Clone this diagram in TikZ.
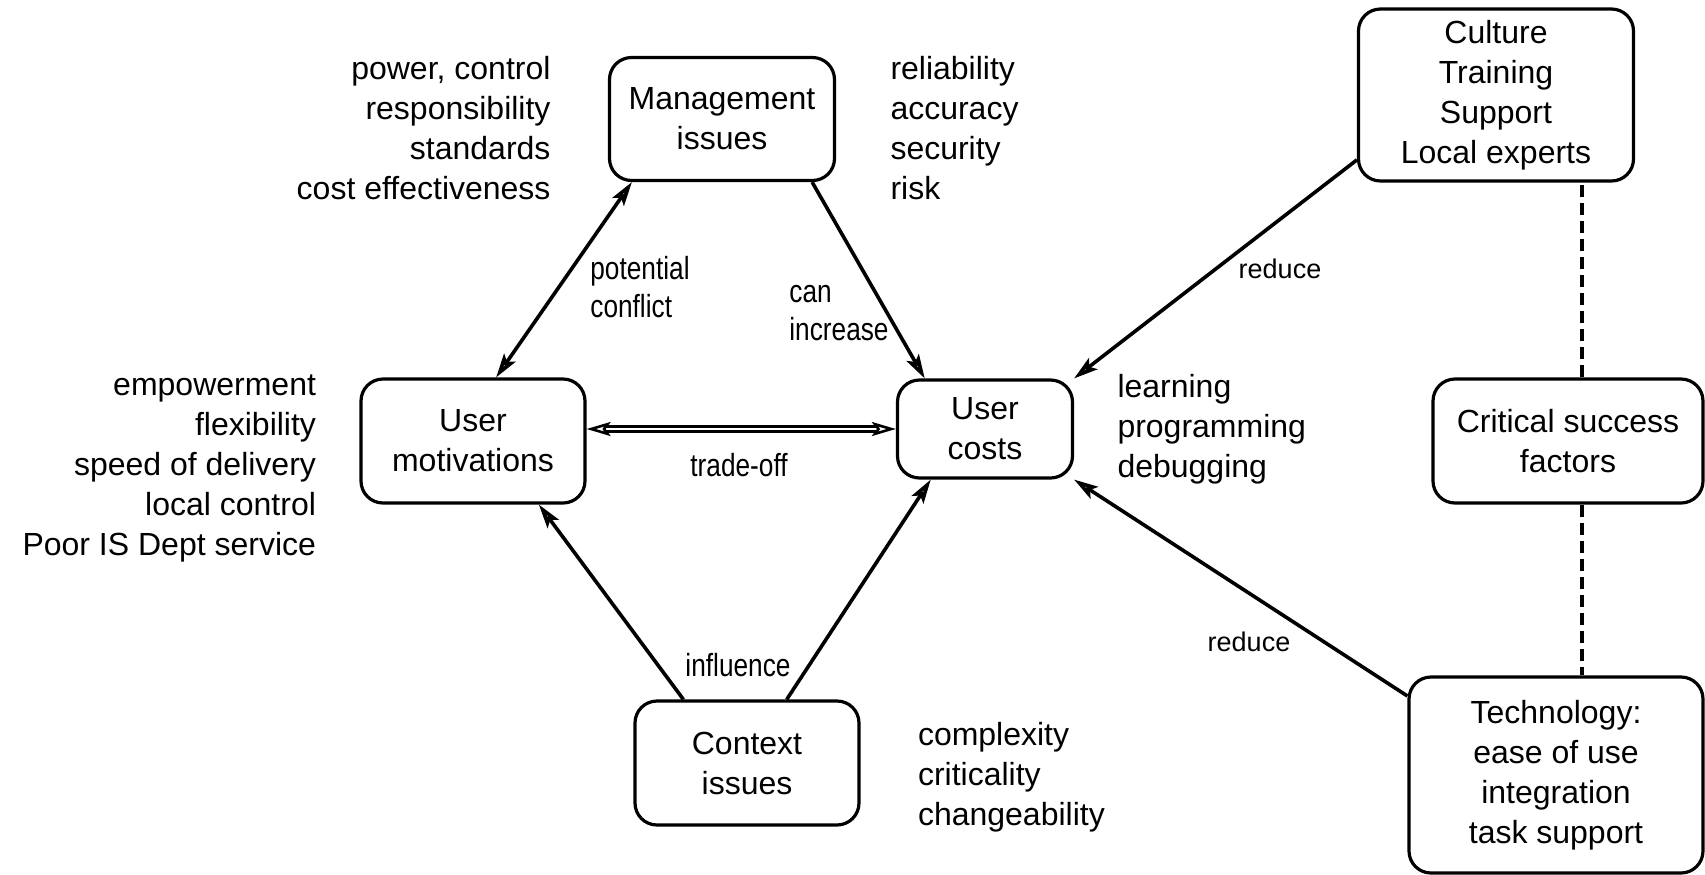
\documentclass[tikz,border=0pt]{standalone}
\usepackage{fontspec}
\setmainfont{Liberation Sans}
\newfontfamily\narrowfont[FakeStretch=0.82]{Liberation Sans}
\usetikzlibrary{arrows.meta,positioning}

\tikzset{
  >={Stealth[open,length=12pt,width=7pt,inset=2.5pt]},
  issue/.style={draw, rounded corners=11pt, line width=1.6pt, align=center,
    inner sep=3pt, font=\fontsize{16}{20}\selectfont},
  notes/.style={inner sep=0pt, font=\fontsize{16}{20}\selectfont},
  link/.style={line width=1.8pt, ->},
  both/.style={line width=1.8pt, <->},
  narrowlabel/.style={inner sep=0pt, align=left, font=\narrowfont\fontsize{16}{19}\selectfont},
  reducelabel/.style={inner sep=0pt, font=\fontsize{13.5}{16}\selectfont},
}

\begin{document}
\begin{tikzpicture}[x=0.5pt, y=-0.5pt]
	\useasboundingbox (0,0) rectangle (1705,874);
	
	% boxes
	\node[issue, minimum width=112.5pt, minimum height=61.5pt] (mgmt) at (722,119) {Management\\issues};
	\node[issue, minimum width=112pt, minimum height=62pt] (umot) at (473,441) {User\\motivations};
	\node[issue, minimum width=87.5pt, minimum height=49pt] (ucost) at (985,429) {User\\costs};
	\node[issue, minimum width=112pt, minimum height=62pt] (ctx) at (747,763) {Context\\issues};
	\node[issue, minimum width=137.5pt, minimum height=86pt] (culture) at (1496,95) {Culture\\Training\\Support\\Local experts};
	\node[issue, minimum width=135pt, minimum height=62pt] (csf) at (1568,441) {Critical success\\factors};
	\node[issue, minimum width=147pt, minimum height=98pt] (tech) at (1556,775) {Technology:\\ease of use\\integration\\task support};
	
	% lists beside the boxes
	\node[notes, align=right, left=28.5pt of mgmt, yshift=-4.5pt] (mgmtleft) {power, control\\responsibility\\standards\\cost effectiveness};
	\node[notes, align=left, right=27pt of mgmt, yshift=-4.5pt] (mgmtright) {reliability\\accuracy\\security\\risk};
	\node[notes, align=right, left=21.5pt of umot, yshift=-13.5pt] (umotleft) {empowerment\\flexibility\\speed of delivery\\local control\\Poor IS Dept service};
	\node[notes, align=left, right=21.5pt of ucost] (ucostright) {learning\\programming\\debugging};
	\node[notes, align=left, right=28.5pt of ctx, yshift=-7pt] (ctxright) {complexity\\criticality\\changeability};
	
	% connector labels
	\node[narrowlabel, anchor=west] (conflict) at (590,287) {potential\\conflict};
	\node[narrowlabel, anchor=west] (increase) at (789,313) {can\\increase};
	\node[narrowlabel] (tradeoff) at (739,465) {trade-off};
	\node[narrowlabel] (influence) at (738,665) {influence};
	\node[reducelabel] (reduceup) at (1280,269) {reduce};
	\node[reducelabel] (reducedown) at (1249,642) {reduce};
	
	% connectors
	\draw[both] (mgmt.-145) -- (umot.70);
	\draw[link] (mgmt.-35) -- (ucost.140);
	\draw[link] (culture.-155) -- (ucost.north east);
	\draw[both, line width=1.3pt, double, double distance=1.2pt] (umot.east |- ucost.west) -- (ucost.west);
	\draw[link] (ctx.135) -- (umot.-44);
	\draw[link] (ctx.58) -- (ucost.-137);
	\draw[link] (tech.152) -- (ucost.south east);
	\draw[line width=2pt, dash pattern=on 6pt off 3pt] ([xshift=7pt]csf.north) -- ([xshift=7pt]csf.north |- culture.south);
	\draw[line width=2pt, dash pattern=on 6pt off 3pt] ([xshift=7pt]csf.south) -- ([xshift=7pt]csf.south |- tech.north);
\end{tikzpicture}
\end{document}
